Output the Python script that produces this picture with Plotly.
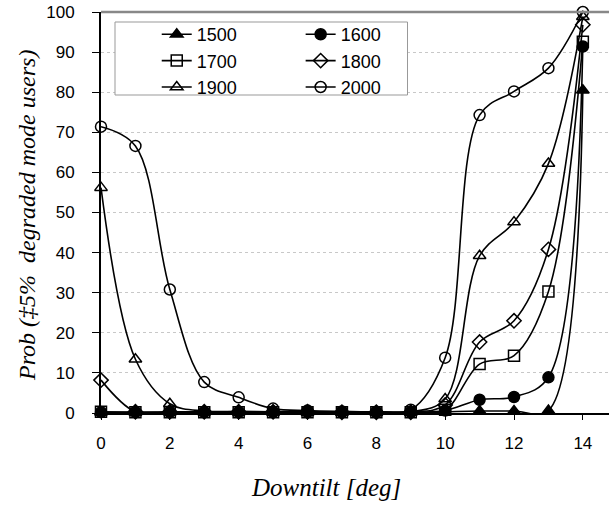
import plotly.graph_objects as go

downtilt = list(range(15))
names = ["1500", "1600", "1700", "1800", "1900", "2000"]
v1500 = [0.2, 0.1, 0.2, 0.2, 0.2, 0.1, 0.1, 0.1, 0.1, 0.1, 0.3, 0.5, 0.5, 0.6, 80.5]
v1600 = [0.2, 0.2, 0.2, 0.2, 0.2, 0.2, 0.2, 0.2, 0.2, 0.2, 0.6, 3.3, 4.0, 8.9, 91.4]
v1700 = [0.3, 0.2, 0.2, 0.2, 0.2, 0.2, 0.2, 0.2, 0.2, 0.2, 0.8, 12.2, 14.3, 30.3, 92.6]
v1800 = [8.2, 0.3, 0.3, 0.3, 0.3, 0.3, 0.3, 0.2, 0.2, 0.2, 2.0, 17.7, 23.0, 40.8, 96.8]
v1900 = [56.2, 13.4, 2.3, 0.5, 0.4, 0.3, 0.3, 0.3, 0.3, 0.3, 3.5, 39.2, 47.6, 62.2, 98.8]
v2000 = [71.4, 66.6, 30.8, 7.7, 3.9, 1.1, 0.6, 0.4, 0.3, 0.8, 13.8, 74.3, 80.2, 86.0, 100.0]
series = [v1500, v1600, v1700, v1800, v1900, v2000]
symbols = ["triangle-up", "circle", "square-open", "diamond-open", "triangle-up-open", "circle-open"]
legend_ids = ["legend", "legend2", "legend", "legend2", "legend", "legend2"]

fig = go.Figure()
for name, vals, sym, lg in zip(names, series, symbols, legend_ids):
    fig.add_trace(go.Scatter(
        x=downtilt, y=vals, name=name, mode="lines+markers",
        line=dict(color="black", width=1.6, shape="spline", smoothing=1.0),
        marker=dict(symbol=sym, size=11, color="black",
                    line=dict(color="black", width=1.5)),
        legend=lg, cliponaxis=False,
    ))

tick_font = dict(family="Liberation Sans, Arial", size=17, color="black")
legend_font = dict(family="Liberation Sans, Arial", size=18, color="black")

fig.update_layout(
    width=609, height=505,
    margin=dict(l=101, r=0, t=12, b=92),
    plot_bgcolor="white", paper_bgcolor="white",
    xaxis=dict(range=[0, 14.76], tickvals=[0, 2, 4, 6, 8, 10, 12, 14],
               showgrid=False, zeroline=False,
               showline=True, linecolor="black", linewidth=1.5,
               ticks="outside", ticklen=5, tickcolor="black",
               tickfont=tick_font, ticklabelstandoff=9),
    yaxis=dict(range=[0, 100], dtick=10,
               showgrid=True, gridcolor="#c8c8c8", griddash="dot", gridwidth=1,
               zeroline=False,
               showline=True, linecolor="black", linewidth=2,
               ticks="outside", ticklen=7, tickcolor="black",
               tickfont=tick_font, ticklabelstandoff=14),
    legend=dict(x=0.1097, y=0.99, xanchor="left", yanchor="top",
                bgcolor="rgba(0,0,0,0)", borderwidth=0,
                font=legend_font, tracegroupgap=0),
    legend2=dict(x=0.393, y=0.99, xanchor="left", yanchor="top",
                 bgcolor="rgba(0,0,0,0)", borderwidth=0,
                 font=legend_font, tracegroupgap=0),
    showlegend=True,
    shapes=[
        dict(type="line", xref="paper", yref="paper", x0=0, x1=1, y0=1, y1=1,
             line=dict(color="#888888", width=2.5), layer="above"),
        dict(type="rect", xref="paper", yref="paper",
             x0=(115 - 101) / 508, x1=(407.5 - 101) / 508,
             y0=(413 - 95) / 401, y1=(413 - 22) / 401,
             line=dict(color="#999999", width=1), fillcolor="white", layer="above"),
    ],
    annotations=[
        dict(text="<i>Downtilt [deg]</i>", xref="paper", yref="paper",
             x=(325.5 - 101) / 508, y=(413 - 487) / 401, xanchor="center", yanchor="middle",
             showarrow=False,
             font=dict(family="Liberation Serif, Times New Roman", size=25, color="black")),
        dict(text="<i>Prob (‡5%  degraded mode users)</i>", xref="paper", yref="paper",
             x=(27 - 101) / 508, y=(413 - 216) / 401, xanchor="center", yanchor="middle",
             textangle=-90, showarrow=False,
             font=dict(family="Liberation Serif, Times New Roman", size=24, color="black")),
    ],
)

fig.write_html("out.html")
